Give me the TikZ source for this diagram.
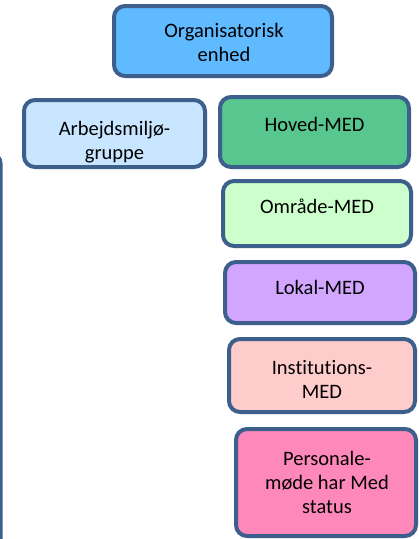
\documentclass[tikz,border=0pt]{standalone}
\usepackage{fontspec}
\setmainfont{Carlito}[Ligatures={NoCommon}]
\definecolor{bord}{RGB}{61,95,140}
\definecolor{cOrg}{RGB}{96,186,255}
\definecolor{cArb}{RGB}{200,230,255}
\definecolor{cHov}{RGB}{87,199,143}
\definecolor{cOmr}{RGB}{204,255,204}
\definecolor{cLok}{RGB}{210,166,255}
\definecolor{cIns}{RGB}{255,204,204}
\definecolor{cPer}{RGB}{255,136,187}
\begin{document}
\begin{tikzpicture}[x=1pt,y=-1pt,
  box/.style={draw=bord, line width=4pt, rounded corners=11pt, inner sep=0pt},
  txt/.style={font=\fontsize{20.5}{24}\selectfont, align=center, inner sep=0pt, text=black}]
\useasboundingbox (0,0) rectangle (419,539);
\clip (0,0) rectangle (419,539);
\fill[white] (0,0) rectangle (419,539);
% cropped box at left edge
\draw[draw=bord, line width=3pt, rounded corners=12pt] (-20,152) -- (1.2,152) -- (1.2,560);
% boxes
\node[box, fill=cOrg, minimum width=218pt, minimum height=70pt] (org) at (223,41) {};
\node[box, fill=cArb, minimum width=181pt, minimum height=67pt] (arb) at (114.5,133.5) {};
\node[box, fill=cHov, minimum width=189pt, minimum height=70pt] (hov) at (314.5,132) {};
\node[box, fill=cOmr, minimum width=188pt, minimum height=65pt] (omr) at (317,213.5) {};
\node[box, fill=cLok, minimum width=190pt, minimum height=61pt] (lok) at (320,292.5) {};
\node[box, fill=cIns, minimum width=186pt, minimum height=73pt] (ins) at (322,375.5) {};
\node[box, fill=cPer, minimum width=180pt, minimum height=107pt] (per) at (326,482.5) {};
% texts
\node[txt] (orgT) at (224,42) {Organisatorisk\\enhed};
\node[txt] (arbT) at (114.5,142) {Arbejdsmiljø-\\gruppe};
\node[txt, anchor=base] (hovT) at (314.5,131) {Hoved-MED};
\node[txt, anchor=base] (omrT) at (317,213) {Område-MED};
\node[txt, anchor=base] (lokT) at (320,294) {Lokal-MED};
\node[txt] (insT) at (322,379) {Institutions-\\MED};
\node[txt] (perT) at (327,482) {Personale-\\møde har Med\\status};
\end{tikzpicture}
\end{document}
